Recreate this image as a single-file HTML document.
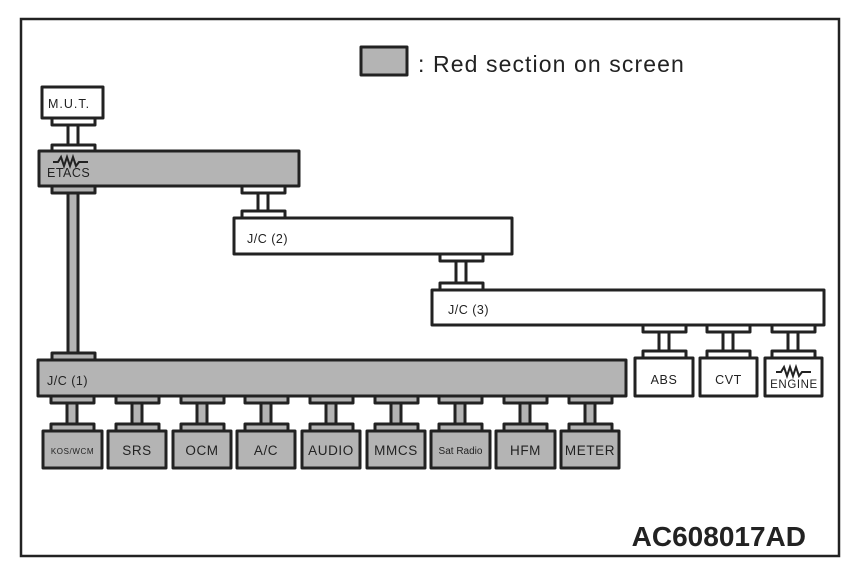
<!DOCTYPE html>
<html><head><meta charset="utf-8"><style>
html,body{margin:0;padding:0;background:#fff}
svg{display:block}
text{font-family:"Liberation Sans",sans-serif;fill:#222}
</style></head><body>
<svg width="868" height="580" viewBox="0 0 868 580" xmlns="http://www.w3.org/2000/svg">
<rect x="21" y="19" width="818" height="537" fill="none" stroke="#222" stroke-width="2.5"/>
<g stroke="#222" stroke-width="3" stroke-linejoin="round">
<rect x="361" y="47" width="46" height="28" fill="#b4b4b4"/>
<rect x="42" y="87" width="61" height="31" fill="#fff"/>
<g fill="#fff">
<rect x="52" y="118" width="43" height="7"/><rect x="68" y="125" width="10" height="20"/><rect x="52" y="145" width="43" height="6"/>
<rect x="242" y="186" width="43" height="7"/><rect x="258" y="193" width="10" height="18"/><rect x="242" y="211" width="43" height="7"/>
<rect x="440" y="254" width="43" height="7"/><rect x="456" y="261" width="10" height="22"/><rect x="440" y="283" width="43" height="7"/>
<rect x="643" y="325" width="43" height="7"/><rect x="659" y="332" width="10" height="19"/><rect x="643" y="351" width="43" height="7"/>
<rect x="707" y="325" width="43" height="7"/><rect x="723" y="332" width="10" height="19"/><rect x="707" y="351" width="43" height="7"/>
<rect x="772" y="325" width="43" height="7"/><rect x="788" y="332" width="10" height="19"/><rect x="772" y="351" width="43" height="7"/>
</g>
<g fill="#b4b4b4">
<rect x="52" y="186" width="43" height="7"/><rect x="68" y="193" width="10" height="160"/><rect x="52" y="353" width="43" height="7"/>
</g>
<g fill="#b4b4b4">
<rect x="51" y="396" width="43" height="7"/><rect x="67" y="403" width="10" height="21"/><rect x="51" y="424" width="43" height="7"/>
<rect x="116" y="396" width="43" height="7"/><rect x="132" y="403" width="10" height="21"/><rect x="116" y="424" width="43" height="7"/>
<rect x="181" y="396" width="43" height="7"/><rect x="197" y="403" width="10" height="21"/><rect x="181" y="424" width="43" height="7"/>
<rect x="245" y="396" width="43" height="7"/><rect x="261" y="403" width="10" height="21"/><rect x="245" y="424" width="43" height="7"/>
<rect x="310" y="396" width="43" height="7"/><rect x="326" y="403" width="10" height="21"/><rect x="310" y="424" width="43" height="7"/>
<rect x="375" y="396" width="43" height="7"/><rect x="391" y="403" width="10" height="21"/><rect x="375" y="424" width="43" height="7"/>
<rect x="439" y="396" width="43" height="7"/><rect x="455" y="403" width="10" height="21"/><rect x="439" y="424" width="43" height="7"/>
<rect x="504" y="396" width="43" height="7"/><rect x="520" y="403" width="10" height="21"/><rect x="504" y="424" width="43" height="7"/>
<rect x="569" y="396" width="43" height="7"/><rect x="585" y="403" width="10" height="21"/><rect x="569" y="424" width="43" height="7"/>
</g>
<rect x="39" y="151" width="260" height="35" fill="#b4b4b4"/>
<rect x="234" y="218" width="278" height="36" fill="#fff"/>
<rect x="432" y="290" width="392" height="35" fill="#fff"/>
<rect x="38" y="360" width="588" height="36" fill="#b4b4b4"/>
<g fill="#fff">
<rect x="635" y="358" width="58" height="38"/>
<rect x="700" y="358" width="57" height="38"/>
<rect x="765" y="358" width="57" height="38"/>
</g>
<g fill="#b4b4b4">
<rect x="43" y="431" width="59" height="37"/>
<rect x="108" y="431" width="58" height="37"/>
<rect x="173" y="431" width="58" height="37"/>
<rect x="237" y="431" width="58" height="37"/>
<rect x="302" y="431" width="58" height="37"/>
<rect x="367" y="431" width="58" height="37"/>
<rect x="431" y="431" width="59" height="37"/>
<rect x="496" y="431" width="59" height="37"/>
<rect x="561" y="431" width="58" height="37"/>
</g>
</g>
<g fill="none" stroke="#222" stroke-width="2">
<polyline points="53,162 58,162 61,157 64,166 67,157 70,166 73,157 76,166 79,162 88,162"/>
<polyline points="776,372 781,372 784,367 787,376 790,367 793,376 796,367 799,376 802,372 811,372"/>
</g>
<text x="418" y="72" font-size="23" letter-spacing="1.1">: Red section on screen</text>
<text x="48" y="108" font-size="12.5" letter-spacing="1">M.U.T.</text>
<text x="47" y="177" font-size="12.5" letter-spacing="0.5">ETACS</text>
<text x="247" y="243" font-size="12.5" letter-spacing="0.5">J/C (2)</text>
<text x="448" y="314" font-size="12.5" letter-spacing="0.5">J/C (3)</text>
<text x="47" y="385" font-size="12.5" letter-spacing="0.5">J/C (1)</text>
<g font-size="12.5" text-anchor="middle" letter-spacing="0.6">
<text x="664" y="384">ABS</text>
<text x="728.5" y="384">CVT</text>
<text x="794" y="388" font-size="11.5">ENGINE</text>
<text x="72.5" y="454" font-size="8">KOS/WCM</text>
<text x="137" y="455" font-size="13.5">SRS</text>
<text x="202" y="455" font-size="13.5">OCM</text>
<text x="266" y="455" font-size="13.5">A/C</text>
<text x="331" y="455" font-size="13.5">AUDIO</text>
<text x="396" y="455" font-size="13.5">MMCS</text>
<text x="460.5" y="454" font-size="10" letter-spacing="0">Sat Radio</text>
<text x="525.5" y="455" font-size="13.5">HFM</text>
<text x="590" y="455" font-size="13.5">METER</text>
</g>
<text x="806" y="546" font-size="28" font-weight="bold" text-anchor="end">AC608017AD</text>
</svg>
</body></html>
